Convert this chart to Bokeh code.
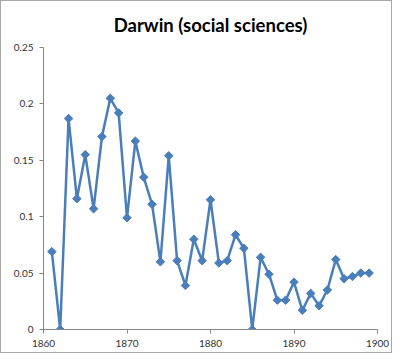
import numpy as np
from bokeh.plotting import figure
from bokeh.models import FixedTicker, CustomJSTickFormatter, Range1d
from bokeh.embed import file_html
from bokeh.resources import INLINE

title_text = "Darwin (social sciences)"
years = list(range(1861, 1900))
values = [0.069, 0.0, 0.187, 0.116, 0.155, 0.107, 0.171, 0.205, 0.192, 0.099,
          0.167, 0.135, 0.111, 0.060, 0.154, 0.061, 0.039, 0.080, 0.061, 0.115,
          0.059, 0.061, 0.084, 0.072, 0.0, 0.064, 0.049, 0.026, 0.026, 0.042,
          0.017, 0.032, 0.021, 0.035, 0.062, 0.045, 0.047, 0.050, 0.050]
x_ticks = [1860, 1870, 1880, 1890, 1900]
y_ticks = [0, 0.05, 0.1, 0.15, 0.2, 0.25]

p = figure(width=392, height=353, output_backend="svg", toolbar_location=None,
           x_range=Range1d(1860, 1900), y_range=Range1d(0, 0.25),
           min_border_left=42, min_border_right=16, min_border_bottom=25,
           min_border_top=46)
p.styles = {"border": "1px solid #a6a6a6", "box-sizing": "border-box"}

p.title.text = title_text
p.title.align = "center"
p.title.offset = -10
p.title.vertical_align = "middle"
p.title.standoff = 21
p.title.text_font = "Lato"
p.title.text_font_size = "18.5px"
p.title.text_font_style = "bold"
p.title.text_color = "#000000"

p.outline_line_color = None
p.grid.grid_line_color = None

for ax in (p.xaxis[0], p.yaxis[0]):
    ax.axis_line_color = "#868686"
    ax.major_tick_line_color = "#868686"
    ax.major_tick_out = 4
    ax.major_tick_in = 0
    ax.minor_tick_line_color = None
    ax.major_label_text_font = "Lato"
    ax.major_label_text_font_size = "10px"
    ax.major_label_text_color = "#333333"

p.xaxis.ticker = FixedTicker(ticks=x_ticks)
p.yaxis.ticker = FixedTicker(ticks=y_ticks)
p.yaxis.formatter = CustomJSTickFormatter(code="return String(Math.round(tick*100)/100);")
p.xaxis.major_label_standoff = 6
p.yaxis.major_label_standoff = 6

blue = "#4a7ebb"
p.line(years, values, line_color=blue, line_width=2.5)
p.scatter(years, values, marker="square", angle=np.pi / 4, size=6,
          fill_color=blue, line_color=blue)

open("out.html", "w").write(file_html(p, INLINE))
